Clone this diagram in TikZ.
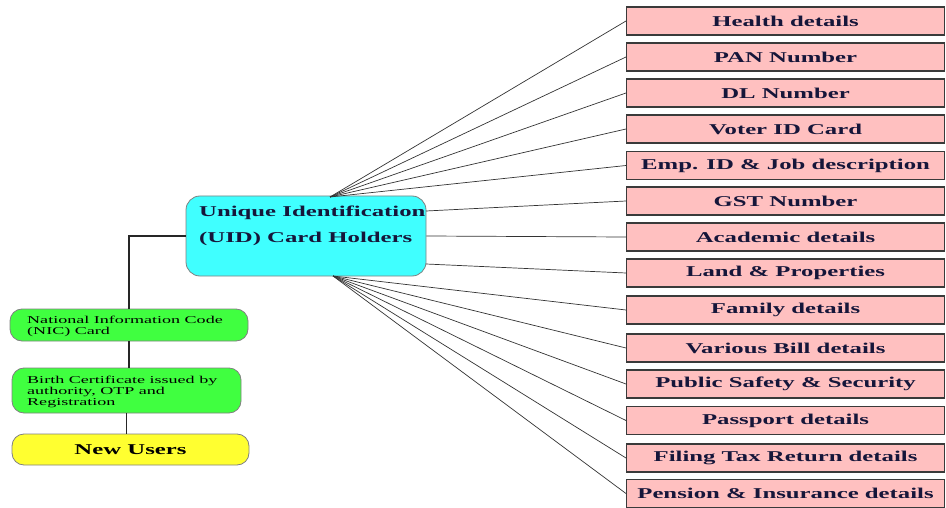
\documentclass[tikz,border=0pt]{standalone}
\usepackage{fontspec}
\setmainfont{Liberation Serif}[FakeStretch=1.65]
\newfontfamily\smallserif{Liberation Serif}[FakeStretch=1.72]
\definecolor{uidcyan}{HTML}{40FFFF}
\definecolor{nicgreen}{HTML}{40FF40}
\definecolor{newyellow}{HTML}{FFFF30}
\definecolor{pinkbox}{HTML}{FFC0C0}
\definecolor{navytext}{HTML}{16163A}
\definecolor{edgegray}{HTML}{3A3A3A}
\begin{document}
\begin{tikzpicture}[x=1pt,y=-1pt,
  pinkitem/.style={draw=edgegray, line width=1.1pt, fill=pinkbox, minimum width=318pt, minimum height=28pt, inner sep=0pt, anchor=west, font=\fontsize{15}{18}\selectfont\bfseries, text=navytext},
  uidbox/.style={draw=gray, line width=0.8pt, fill=uidcyan, rounded corners=14pt, minimum width=240pt, minimum height=80pt, inner sep=0pt},
  uidtext/.style={font=\fontsize{15}{18}\selectfont\bfseries, text=navytext, align=left, inner sep=0pt, anchor=west},
  greenbox/.style={draw=gray, line width=0.8pt, fill=nicgreen, rounded corners=12pt, inner sep=0pt},
  smalltext/.style={font=\smallserif\fontsize{10.5}{11}\selectfont, align=left, inner sep=0pt, anchor=west},
  yellowbox/.style={draw=gray, line width=0.8pt, fill=newyellow, rounded corners=12pt, inner sep=0pt, font=\fontsize{15}{18}\selectfont\bfseries},
  link/.style={draw=black!80, line width=0.7pt},
  stem/.style={draw=black!85, line width=1.2pt}
]
\useasboundingbox (0,0) rectangle (946,508);

% central node
\node[uidbox] (uid) at (306,236) {};
\node[uidtext] (uidt) at (199,226) {Unique Identification\\[8pt](UID) Card Holders};

% left chain
\node[greenbox, minimum width=238pt, minimum height=32pt] (nic) at (129,325) {};
\node[smalltext] (nict) at (27,326.5) {National Information Code\\(NIC) Card};
\node[greenbox, minimum width=229pt, minimum height=45pt] (birth) at (126.5,390.5) {};
\node[smalltext] (birtht) at (27,391.5) {Birth Certificate issued by\\authority, OTP and\\Registration};
\node[yellowbox, minimum width=237pt, minimum height=31pt] (newu) at (130.5,449.5) {New Users};

\draw[stem] (nic.north) |- (uid.west);
\draw[stem] (nic.south) -- (nic.south |- birth.north);
\draw[stem] (birth.south) -- (birth.south |- newu.north);

% right items
\node[pinkitem] (p1) at (626,21) {Health details};
\node[pinkitem] (p2) at (626,57) {PAN Number};
\node[pinkitem] (p3) at (626,93) {DL Number};
\node[pinkitem] (p4) at (626,129) {Voter ID Card};
\node[pinkitem] (p5) at (626,165.5) {Emp. ID \& Job description};
\node[pinkitem] (p6) at (626,201) {GST Number};
\node[pinkitem] (p7) at (626,237) {Academic details};
\node[pinkitem] (p8) at (626,273) {Land \& Properties};
\node[pinkitem] (p9) at (626,310) {Family details};
\node[pinkitem] (p10) at (626,348) {Various Bill details};
\node[pinkitem] (p11) at (626,384) {Public Safety \& Security};
\node[pinkitem] (p12) at (626,420.5) {Passport details};
\node[pinkitem] (p13) at (626,458) {Filing Tax Return details};
\node[pinkitem] (p14) at (626,493.5) {Pension \& Insurance details};

% fan origins
\coordinate (ftop) at (330,197);
\coordinate (fbot) at (333,276);
\coordinate (egst) at (426,211);
\coordinate (eland) at (426,264);

\foreach \i in {1,...,5} \draw[link] (ftop) -- (p\i.west);
\draw[link] (egst) -- (p6.west);
\draw[link] (uid.east) -- (p7.west);
\draw[link] (eland) -- (p8.west);
\foreach \i in {9,...,14} \draw[link] (fbot) -- (p\i.west);
\end{tikzpicture}
\end{document}
